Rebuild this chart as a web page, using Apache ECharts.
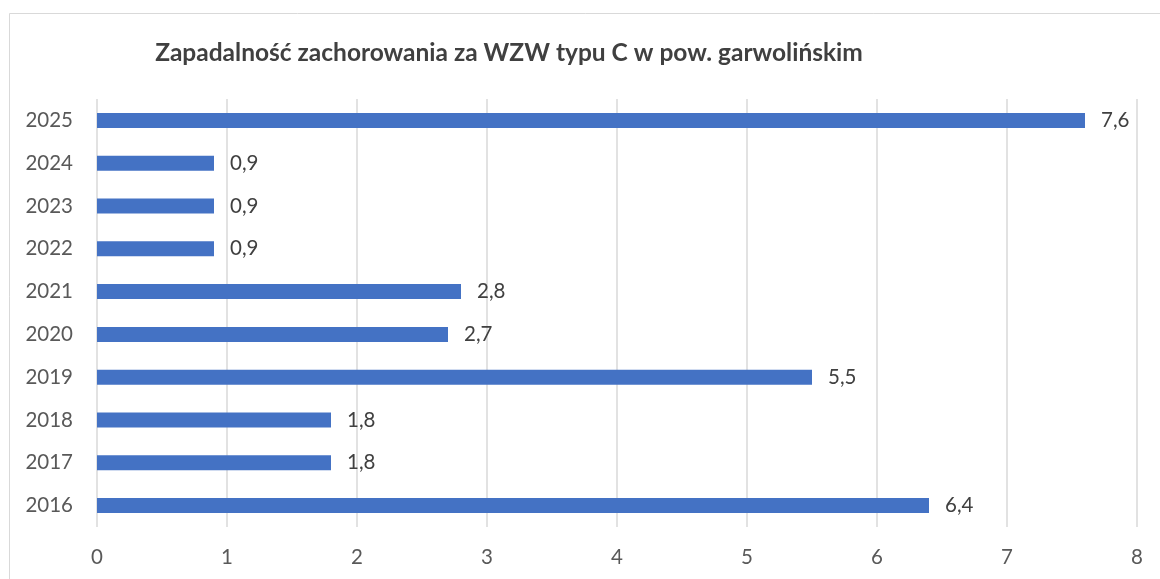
<!DOCTYPE html>
<html><head><meta charset="utf-8">
<script src="https://cdn.jsdelivr.net/npm/echarts@6/dist/echarts.min.js"></script>
<style>html,body{margin:0;padding:0;background:#fff}#c{width:1160px;height:579px}</style>
</head><body><div id="c"></div>
<script>
const title = 'Zapadalność zachorowania za WZW typu C w pow. garwolińskim';
const years = ['2016','2017','2018','2019','2020','2021','2022','2023','2024','2025'];
const values = [6.4, 1.8, 1.8, 5.5, 2.7, 2.8, 0.9, 0.9, 0.9, 7.6];
const xTicks = [0, 8, 1];
const font = 'Lato, "Open Sans", sans-serif';
const chart = echarts.init(document.getElementById('c'));
chart.setOption({
  animation: false,
  backgroundColor: '#fff',
  title: { text: title, left: 504, top: 36, textAlign: 'center',
    textStyle: { fontFamily: font, fontSize: 24.5, fontWeight: 'bold', color: '#404040' } },
  graphic: [{ type: 'rect', shape: { x: 9.5, y: 13.5, width: 1300, height: 700 },
    style: { fill: 'none', stroke: '#D9D9D9', lineWidth: 1 }, silent: true }],
  grid: { left: 97, right: 23, top: 99, bottom: 52 },
  xAxis: { type: 'value', min: xTicks[0], max: xTicks[1], interval: xTicks[2],
    axisLine: { show: false }, axisTick: { show: false },
    splitLine: { lineStyle: { color: '#D9D9D9', width: 1.5 } },
    axisLabel: { color: '#595959', fontFamily: font, fontSize: 20.5, margin: 20 } },
  yAxis: { type: 'category', data: years,
    axisLine: { show: false }, axisTick: { show: false },
    axisLabel: { color: '#595959', fontFamily: font, fontSize: 20.5, margin: 24 } },
  series: [{ type: 'bar', data: values, barWidth: 15,
    itemStyle: { color: '#4472C4' },
    label: { show: true, position: 'right', distance: 16, color: '#404040',
      fontFamily: font, fontSize: 20.5,
      formatter: p => String(p.value).replace('.', ',') } }]
});
</script></body></html>
